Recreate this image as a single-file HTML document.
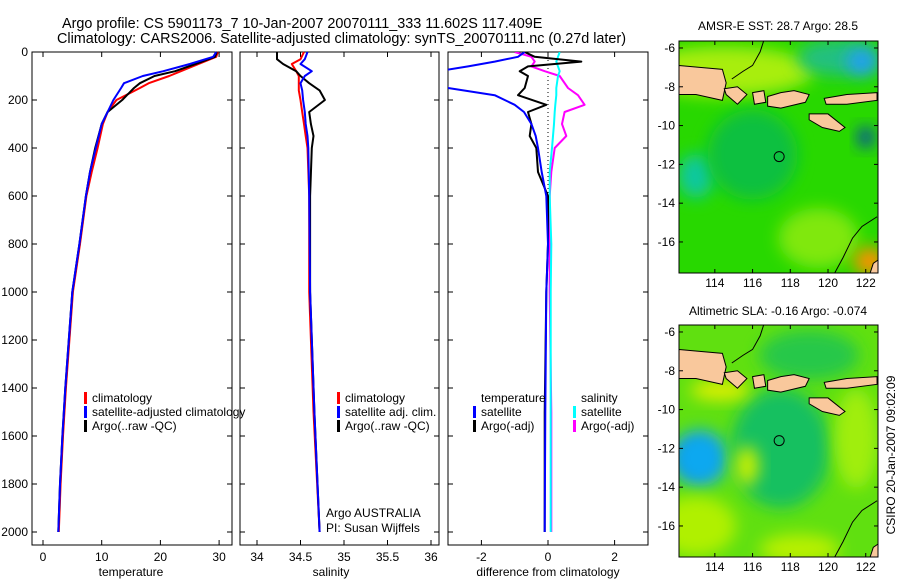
<!DOCTYPE html>
<html><head><meta charset="utf-8"><style>
body{margin:0;background:#fff;}
svg{display:block;font-family:"Liberation Sans",sans-serif;font-size:12px;}
</style></head><body>
<svg id="fig" width="900" height="580" viewBox="0 0 900 580">
<text x="62" y="28" style="font-size:14.4px">Argo profile: CS 5901173_7 10-Jan-2007 20070111_333 11.602S 117.409E</text>
<text x="57" y="43" style="font-size:14.4px">Climatology: CARS2006. Satellite-adjusted climatology: synTS_20070111.nc (0.27d later)</text>
<text x="131" y="576" text-anchor="middle">temperature</text>
<text x="331" y="576" text-anchor="middle">salinity</text>
<text x="548" y="576" text-anchor="middle">difference from climatology</text>
<text x="778" y="30" text-anchor="middle">AMSR-E SST: 28.7 Argo: 28.5</text>
<text x="778" y="315" text-anchor="middle">Altimetric SLA: -0.16 Argo: -0.074</text>
<text transform="translate(895,455) rotate(-90)" text-anchor="middle">CSIRO 20-Jan-2007 09:02:09</text>
<text x="326" y="517">Argo AUSTRALIA</text>
<text x="326" y="532">PI: Susan Wijffels</text>
</svg>
<script>
// ---- data ----
const depthT=[0,20,50,80,100,130,150,200,250,300,400,500,600,800,1000,1200,1400,1600,1800,2000];
const climT=[29.8,29.5,26.5,23.5,21.5,18,16.5,12.5,11,10.2,9.3,8.3,7.4,6.3,5.1,4.5,3.9,3.4,3.0,2.7];
const satT=[29.5,29,25,20.5,17,13.8,13.3,12,11,10,9,8,7.3,6.2,5.0,4.4,3.8,3.3,2.9,2.6];
const argoT=[29.6,29.3,26,22.5,19,16.5,15.5,13.5,11,10,8.9,8,7.3,6.2,5.0,4.4,3.8,3.3,2.9,2.6];
const depthS=[0,30,50,80,100,130,160,200,250,300,350,400,600,1000,1500,2000];
const climS=[34.54,34.5,34.4,34.45,34.48,34.48,34.48,34.5,34.52,34.54,34.56,34.58,34.6,34.6,34.65,34.72];
const satS=[34.58,34.55,34.5,34.63,34.55,34.5,34.52,34.53,34.55,34.56,34.58,34.59,34.6,34.61,34.66,34.72];
const argoS=[34.23,34.23,34.3,34.45,34.5,34.6,34.72,34.78,34.6,34.62,34.65,34.63,34.61,34.61,34.66,34.72];
const depthD=[0,20,40,60,80,100,150,180,220,250,300,350,400,500,600,800,1000,1500,2000];
const satDT=[-0.7,-0.9,-1.6,-2.4,-3.3,-3.3,-3.0,-1.6,-1.0,-0.72,-0.5,-0.37,-0.3,-0.19,-0.05,0,-0.05,-0.08,-0.1];
const argoDT=[-0.7,-0.4,1.0,-0.6,-0.85,-0.6,-0.7,-0.9,-0.05,-0.6,-0.5,-0.55,-0.35,-0.3,0,0,-0.05,-0.1,-0.1];
const satDS=[0.35,0.3,0.25,0.3,0.35,0.3,0.25,0.25,0.22,0.2,0.18,0.15,0.12,0.05,0.05,0.1,0.08,0.08,0.08];
const argoDS=[-1.0,-0.5,-0.4,-0.5,-0.1,0.35,0.6,0.9,1.1,0.5,0.42,0.55,0.2,0.1,0.05,0.05,0.05,0.1,0.1];
const depthTicks=[0,200,400,600,800,1000,1200,1400,1600,1800,2000];
const tempTicks=[0,10,20,30];
const salTicks=["34","34.5","35","35.5","36"];
const diffTicks=[-2,0,2];
const latTicks=[-6,-8,-10,-12,-14,-16];
const lonTicks=[114,116,118,120,122];
// ---- helpers ----
const NS="http://www.w3.org/2000/svg",svg=document.getElementById('fig');
function mk(t,a,p){const e=document.createElementNS(NS,t);for(const k in a)e.setAttribute(k,a[k]);(p||svg).appendChild(e);return e;}
const Y0=52,Y1=545;
const yD=d=>52+d*0.24;
function panel(name,x0,x1,xf,ticks,labs){
  const g=mk('g',{});
  
  
  const r=mk('rect',{x:x0,y:Y0,width:x1-x0,height:Y1-Y0,fill:'none',stroke:'#000','stroke-width':1},g);
  
  
  depthTicks.forEach(d=>{const y=yD(d);mk('line',{x1:x0,x2:x0+5,y1:y,y2:y,stroke:'#000'},g);mk('line',{x1:x1,x2:x1-5,y1:y,y2:y,stroke:'#000'},g);});
  ticks.forEach((t,i)=>{const x=xf(+t);mk('line',{x1:x,x2:x,y1:Y1,y2:Y1-5,stroke:'#000'},g);mk('line',{x1:x,x2:x,y1:Y0,y2:Y0+5,stroke:'#000'},g);
    const tx=mk('text',{x:x,y:561,'text-anchor':'middle'},g);tx.textContent=labs?labs[i]:t;
    
    });
  return g;
}
function line(g,xs,ds,xf,col,name,w,dash){
  const pts=xs.map((v,i)=>xf(v).toFixed(1)+','+yD(ds[i]).toFixed(1)).join(' ');
  const p=mk('polyline',{points:pts,fill:'none',stroke:col,'stroke-width':w||2,'stroke-linejoin':'round'},g);
  if(dash)p.setAttribute('stroke-dasharray',dash);
  
  
}
function legend(g,x,y,col,txt,name){
  const b=mk('rect',{x:x,y:y-6,width:3,height:12,fill:col},g);
  const t=mk('text',{x:x+8,y:y+4},g);t.textContent=txt;
  
  
}
depthTicks.forEach(d=>{const t=mk('text',{x:28,y:yD(d)+4,'text-anchor':'end'});t.textContent=d;
  
  });
// panel 1
const xT=v=>43+v*5.87;
const g1=panel('temperature-panel',32,232,xT,tempTicks);
line(g1,climT,depthT,xT,'#f00','climatology-temperature-line');
line(g1,argoT,depthT,xT,'#000','argo-temperature-line');
line(g1,satT,depthT,xT,'#00f','satellite-temperature-line');
legend(g1,84,398,'#f00','climatology','legend-climatology');
legend(g1,84,412,'#00f','satellite-adjusted climatology','legend-satellite');
legend(g1,84,426,'#000','Argo(..raw -QC)','legend-argo');
// panel 2
const xS=v=>257+(v-34)*87;
const g2=panel('salinity-panel',240,439,xS,salTicks);
line(g2,climS,depthS,xS,'#f00','climatology-salinity-line');
line(g2,argoS,depthS,xS,'#000','argo-salinity-line');
line(g2,satS,depthS,xS,'#00f','satellite-salinity-line');
legend(g2,337,398,'#f00','climatology','legend-climatology-sal');
legend(g2,337,412,'#00f','satellite adj. clim.','legend-satellite-sal');
legend(g2,337,426,'#000','Argo(..raw -QC)','legend-argo-sal');
// panel 3
const xDf=v=>548+v*33.3;
const g3=panel('difference-panel',448,648,xDf,diffTicks);
const cl=mk('clipPath',{id:'c3'});mk('rect',{x:448,y:52,width:200,height:493},cl);
const gc=mk('g',{'clip-path':'url(#c3)'},g3);
mk('line',{x1:548,x2:548,y1:52,y2:yD(620),stroke:'#000','stroke-dasharray':'1,3'},gc);
line(gc,argoDS,depthD,xDf,'#f0f','argo-salinity-diff-line');
line(gc,satDS,depthD,xDf,'#0ff','satellite-salinity-diff-line');
line(gc,argoDT,depthD,xDf,'#000','argo-temperature-diff-line');
line(gc,satDT,depthD,xDf,'#00f','satellite-temperature-diff-line');
const tt=mk('text',{x:481,y:402},g3);tt.textContent='temperature';


const ts=mk('text',{x:581,y:402},g3);ts.textContent='salinity';


legend(g3,473,412,'#00f','satellite','legend-sat-temp-diff');
legend(g3,473,426,'#000','Argo(-adj)','legend-argo-temp-diff');
legend(g3,573,412,'#0ff','satellite','legend-sat-sal-diff');
legend(g3,573,426,'#f0f','Argo(-adj)','legend-argo-sal-diff');
// ---- maps ----
const java=[[112.1,-6.9],[113.2,-7.0],[114.4,-7.1],[114.6,-7.8],[114.4,-8.7],[113,-8.4],[112.1,-8.4]];
const bali=[[114.5,-8.1],[115.2,-8.0],[115.7,-8.4],[115.2,-8.9],[114.6,-8.4]];
const lombok=[[116.0,-8.3],[116.6,-8.2],[116.7,-8.8],[116.1,-8.9]];
const sumbawa=[[116.8,-8.5],[117.5,-8.3],[118.2,-8.2],[119.0,-8.4],[118.8,-8.8],[117.5,-9.1],[116.8,-9.0]];
const flores=[[119.8,-8.6],[121,-8.4],[122.6,-8.3],[122.6,-8.7],[121,-8.9],[119.9,-8.9]];
const sumba=[[119.0,-9.4],[120.0,-9.4],[120.9,-10.1],[120.6,-10.3],[119.7,-10.1],[119.0,-9.7]];
const ausCoast=[[120.3,-17.7],[120.8,-16.8],[121.3,-15.8],[121.8,-15.2],[122.6,-14.7]];
const sulCoast=[[116.6,-5.6],[116.4,-6.2],[116.0,-6.9],[115.5,-7.2],[114.9,-7.6]];
const argoPos=[117.41,-11.6];
function map(name,x0,y0,bg){
  const W=199,H=232,lonA=112.1,lonB=122.65,latA=-5.64,latB=-17.6;
  const px=l=>x0+(l-lonA)/(lonB-lonA)*W, py=l=>y0+(l-latA)/(latB-latA)*H;
  const g=mk('g',{});
  
  
  const cid='c'+name;const cp=mk('clipPath',{id:cid});mk('rect',{x:x0,y:y0,width:W,height:H},cp);
  const gi=mk('g',{'clip-path':'url(#'+cid+')'},g);
  mk('rect',{x:x0,y:y0,width:W,height:H,fill:bg[0]},gi);
  const fid='f'+name;const f=mk('filter',{id:fid,x:'-50%',y:'-50%',width:'200%',height:'200%'});mk('feGaussianBlur',{stdDeviation:8},f);
  bg.slice(1).forEach(b=>mk('ellipse',{cx:px(b[0]),cy:py(b[1]),rx:b[2],ry:b[3],fill:b[4],filter:'url(#'+fid+')'},gi));
  const poly=(pts,n)=>{const p=mk('polygon',{points:pts.map(q=>px(q[0])+','+py(q[1])).join(' '),fill:'#f9c89c',stroke:'#000','stroke-width':1},gi);
    
    };
  poly(java,'java-land');poly(bali,'bali-land');poly(lombok,'lombok-land');poly(sumbawa,'sumbawa-land');poly(flores,'flores-land');poly(sumba,'sumba-land');
  mk('polyline',{points:ausCoast.map(q=>px(q[0])+','+py(q[1])).join(' '),fill:'none',stroke:'#000'},gi);
  mk('polyline',{points:sulCoast.map(q=>px(q[0])+','+py(q[1])).join(' '),fill:'none',stroke:'#000'},gi);
  mk('polygon',{points:[[122.2,-17.7],[122.4,-17.1],[122.7,-16.9],[122.7,-17.7]].map(q=>px(q[0])+','+py(q[1])).join(' '),fill:'#f9c89c',stroke:'#000'},gi);
  const c=mk('circle',{cx:px(argoPos[0]),cy:py(argoPos[1]),r:5,fill:'none',stroke:'#000'},g);
  
  
  mk('rect',{x:x0,y:y0,width:W,height:H,fill:'none',stroke:'#000'},g);
  latTicks.forEach(l=>{const y=py(l);mk('line',{x1:x0,x2:x0+4,y1:y,y2:y,stroke:'#000'},g);mk('line',{x1:x0+W,x2:x0+W-4,y1:y,y2:y,stroke:'#000'},g);
    const t=mk('text',{x:x0-4,y:y+4,'text-anchor':'end'},g);t.textContent=l;
    
    });
  lonTicks.forEach(l=>{const x=px(l);mk('line',{x1:x,x2:x,y1:y0+H,y2:y0+H-4,stroke:'#000'},g);mk('line',{x1:x,x2:x,y1:y0,y2:y0+4,stroke:'#000'},g);
    const t=mk('text',{x:x,y:y0+H+14,'text-anchor':'middle'},g);t.textContent=l;
    
    });
}
map('sst-map',679,41,['#28d800',[114.5,-7.2,90,25,'#a8ee10'],[113,-12.6,18,22,'#10c8a0'],[116,-11.5,45,45,'#10c040'],[119.5,-15.8,40,30,'#80e810'],[122.2,-17,16,14,'#ff9000'],[120.5,-6.5,40,18,'#20c080'],[122,-10.6,8,10,'#0030c0'],[121.8,-6.7,16,14,'#20a0f0']]);
map('sla-map',679,325,['#60e010',[113,-12.5,14,14,'#0030d0'],[113.2,-12.5,28,28,'#10a8f0'],[117.5,-12,50,60,'#18c060'],[115.7,-12.9,12,20,'#c8f000'],[113,-16,40,30,'#b0f000'],[114.3,-9,30,10,'#e0f000'],[118.5,-17.2,40,15,'#b8f000'],[121.5,-11.5,22,50,'#a0ee10'],[119,-7.2,50,25,'#28c848']]);
</script>
</body></html>
